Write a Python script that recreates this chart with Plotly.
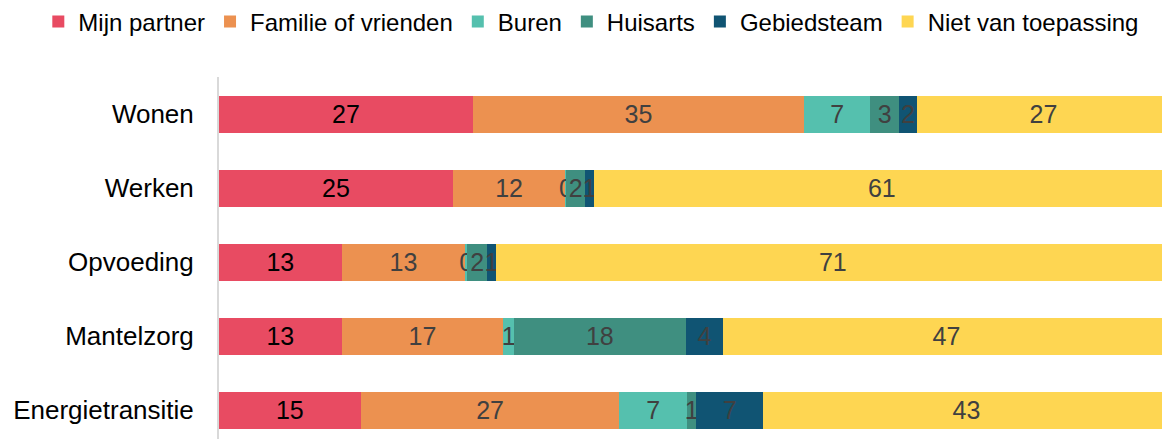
import plotly.graph_objects as go

categories = ["Wonen", "Werken", "Opvoeding", "Mantelzorg", "Energietransitie"]
series_names = [
    "Mijn partner",
    "Familie of vrienden",
    "Buren",
    "Huisarts",
    "Gebiedsteam",
    "Niet van toepassing",
]
mijn_partner = [26.7, 24.6, 12.9, 12.9, 14.9]
familie_vrienden = [34.8, 11.8, 13.0, 17.0, 27.2]
buren = [7.0, 0.1, 0.2, 1.1, 7.1]
huisarts = [3.0, 2.0, 2.1, 18.1, 1.0]
gebiedsteam = [1.9, 0.9, 0.9, 3.9, 7.0]
niet_van_toepassing = [26.6, 60.6, 70.9, 47.0, 42.8]

series_values = [mijn_partner, familie_vrienden, buren, huisarts, gebiedsteam, niet_van_toepassing]
colors = ["#e84b62", "#ec9150", "#55c0ae", "#3f8f80", "#105473", "#fed652"]
text_colors = ["#000000", "#404040", "#404040", "#404040", "#404040", "#404040"]

font_family = "Arial, Liberation Sans, sans-serif"

fig = go.Figure()
for name, values, color, text_color in zip(series_names, series_values, colors, text_colors):
    fig.add_trace(
        go.Bar(
            y=categories,
            x=values,
            name=name,
            orientation="h",
            marker={"color": color, "line": {"width": 0}},
            texttemplate="%{x:.0f}",
            textposition="inside",
            insidetextanchor="middle",
            textangle=0,
            textfont={"color": text_color, "size": 25, "family": font_family},
            cliponaxis=False,
        )
    )

# the page body adds an 8px offset, so margins are shifted by that amount
fig.update_layout(
    width=1170,
    height=439,
    barmode="stack",
    bargap=0.5,
    margin={"l": 211, "r": 8, "t": 69, "b": 8, "autoexpand": False},
    paper_bgcolor="#ffffff",
    plot_bgcolor="#ffffff",
    font={"family": font_family, "size": 25, "color": "#000000"},
    uniformtext={"minsize": 25, "mode": "show"},
    legend={
        "orientation": "h",
        "x": -0.19,
        "xanchor": "left",
        "y": 1.152,
        "yanchor": "middle",
        "font": {"size": 24, "color": "#000000"},
        "itemwidth": 30,
        "itemclick": False,
        "traceorder": "normal",
    },
    xaxis={"range": [0, 100], "visible": False, "showgrid": False, "zeroline": False},
    yaxis={
        "categoryorder": "array",
        "categoryarray": categories[::-1],
        "range": [-0.39, 4.5],
        "automargin": False,
        "showline": True,
        "linecolor": "#d9d9d9",
        "linewidth": 2,
        "ticks": "",
        "showgrid": False,
        "ticklabelstandoff": 18,
        "tickfont": {"size": 26, "color": "#000000"},
    },
)

fig.write_html("out.html")
